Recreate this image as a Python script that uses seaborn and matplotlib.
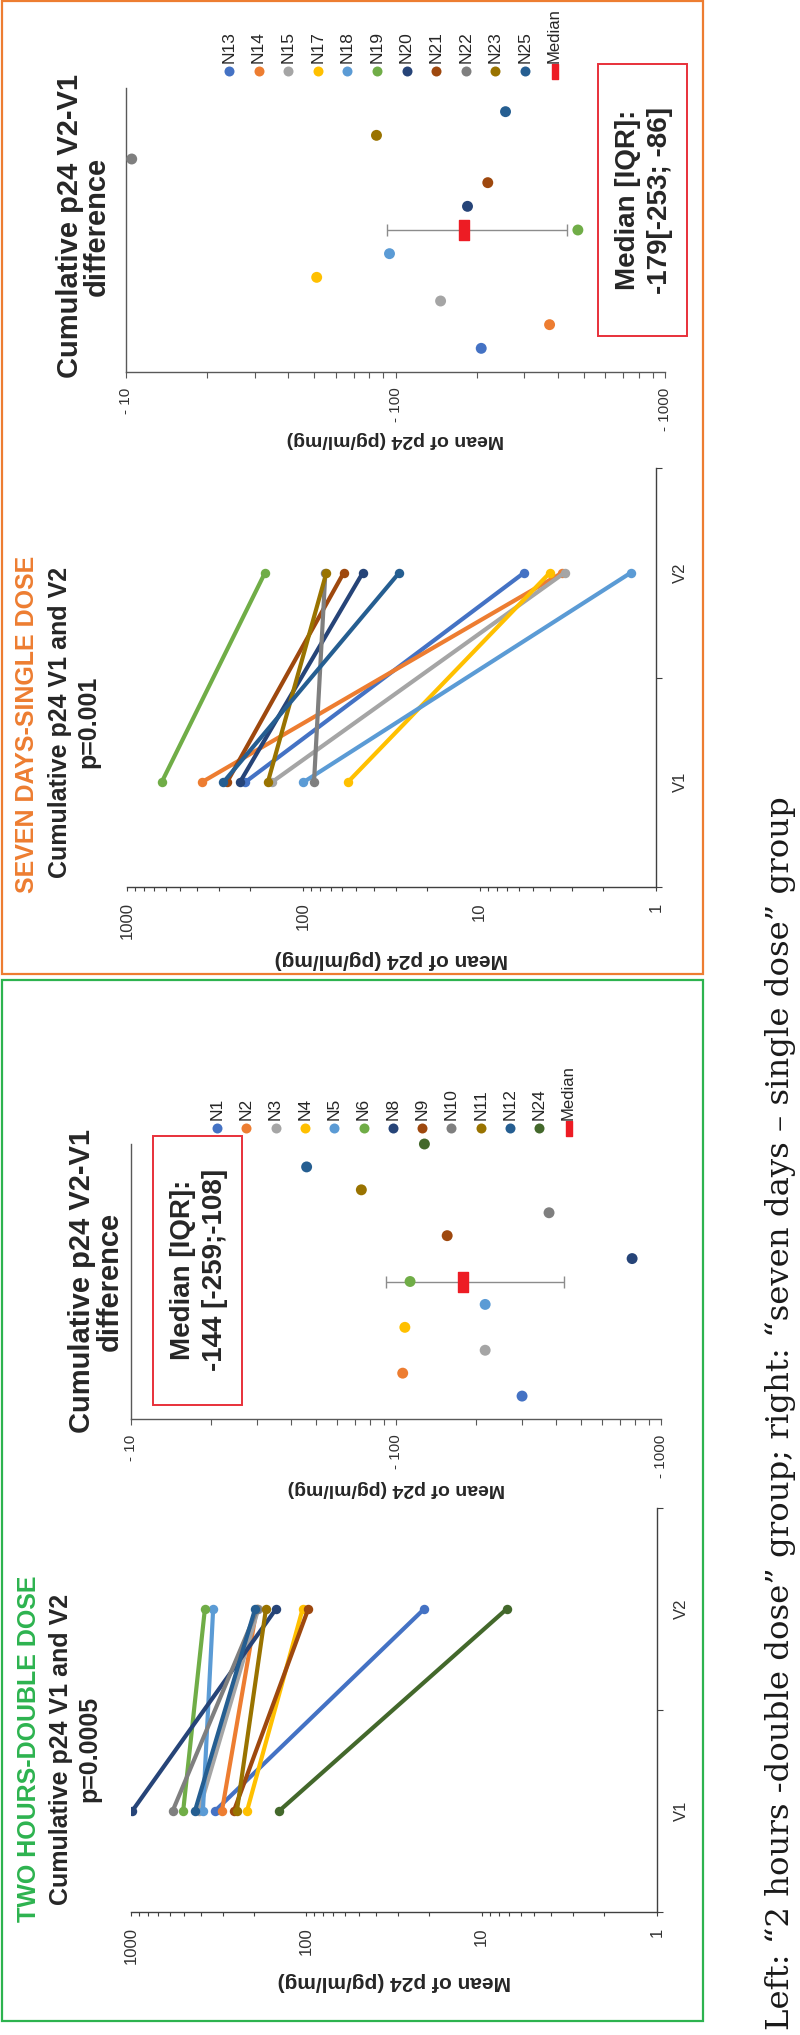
import numpy as np
import pandas as pd
import seaborn as sns
import matplotlib.pyplot as plt
from matplotlib.patches import Rectangle
from matplotlib.path import Path
from matplotlib.ticker import LogLocator, NullFormatter

sns.set_theme(style='white')
plt.rcParams['font.family'] = ['Liberation Sans', 'DejaVu Sans']

# --- two hours, double dose ---
ids_2h = ['N1', 'N2', 'N3', 'N4', 'N5', 'N6', 'N8', 'N9', 'N10', 'N11', 'N12', 'N24']
colors_2h = ['#4472C4', '#ED7D31', '#A5A5A5', '#FFC000', '#5B9BD5', '#70AD47',
             '#264478', '#9E480E', '#7F7F7F', '#997300', '#255E91', '#43682B']
v1_2h = [332, 303, 410, 218, 389, 504, 984, 259, 579, 249, 432, 143]
v2_2h = [21.3, 192, 188, 105, 340, 379, 149, 97.5, 190, 170, 196, 7.2]
diff_2h = [-299, -106, -217, -108, -217, -113, -778, -156, -378, -74, -46, -128]
median_2h = -179
err_2h = (-92, -431)
label_2h = 'Median [IQR]:\n-144 [-259;-108]'
p_2h = 'p=0.0005'

# --- seven days, single dose ---
ids_7d = ['N13', 'N14', 'N15', 'N17', 'N18', 'N19', 'N20', 'N21', 'N22', 'N23', 'N25']
colors_7d = ['#4472C4', '#ED7D31', '#A5A5A5', '#FFC000', '#5B9BD5', '#70AD47',
             '#264478', '#9E480E', '#7F7F7F', '#997300', '#255E91']
v1_7d = [214, 377, 151, 56, 100, 636, 229, 271, 87, 159, 284]
v2_7d = [5.6, 3.4, 3.3, 4.0, 1.39, 165, 46, 59, 75, 74, 28.6]
diff_7d = [-208, -373, -147, -51, -95, -475, -185, -220, -10.5, -85, -256]
median_7d = -179
err_7d = (-93, -433)
label_7d = 'Median [IQR]:\n-179[-253; -86]'
p_7d = 'p=0.001'

visits = ['V1', 'V2']
value_ticks = [1000, 100, 10, 1]
diff_ticks = [10, 100, 1000]
ylab = 'Mean of p24 (pg/ml/mg)'
caption = 'Left: \u201c2 hours -double dose\u201d group; right: \u201cseven days \u2013 single dose\u201d group'

RED = '#ED1C24'
ORANGE = '#ED7D31'
GREEN = '#2DB34F'
AXC = '#404040'

W, H = 800, 2035
fig = plt.figure(figsize=(W / 100, H / 100), dpi=100)


def px_axes(x0, y0, x1, y1):
    return fig.add_axes([x0 / W, 1 - y1 / H, (x1 - x0) / W, (y1 - y0) / H])


def rect_marker(w):
    return Path([(-w, -0.5), (w, -0.5), (w, 0.5), (-w, 0.5), (-w, -0.5)], closed=True)


def line_panel(ax, ids, v1, v2, colors, label_y):
    long = pd.DataFrame({'id': ids * 2,
                         'visit': [0] * len(ids) + [1] * len(ids),
                         'p24': v1 + v2})
    ax.set_xscale('log')
    sns.lineplot(data=long, x='p24', y='visit', hue='id', units='id', estimator=None,
                 sort=False, palette=dict(zip(ids, colors)), marker='o', markersize=6.8,
                 markeredgewidth=0, linewidth=3, legend=False, ax=ax)
    ax.set_xlim(1000, 1)
    ax.set_ylim(-0.5, 1.5)
    ax.set_xticks(value_ticks)
    ax.set_xticklabels([str(v) for v in value_ticks], rotation=90)
    ax.xaxis.set_minor_locator(LogLocator(base=10, subs=np.arange(2, 10)))
    ax.xaxis.set_minor_formatter(NullFormatter())
    ax.tick_params(axis='x', which='both', bottom=True, direction='out', length=3,
                   width=0.8, color=AXC, labelsize=12, pad=8, labelcolor='#333333')
    ax.yaxis.tick_right()
    ax.set_yticks([-0.5, 0.5, 1.5])
    ax.set_yticklabels([])
    ax.set_yticks([0, 1], minor=True)
    ax.set_yticklabels(visits, minor=True, rotation=90, va='center')
    ax.tick_params(axis='y', which='major', right=True, left=False, direction='out',
                   length=4, width=0.8, color=AXC)
    ax.tick_params(axis='y', which='minor', length=0, pad=12, labelsize=12,
                   labelcolor='#333333')
    for s in ['top', 'left']:
        ax.spines[s].set_visible(False)
    for s in ['bottom', 'right']:
        ax.spines[s].set_color(AXC)
        ax.spines[s].set_linewidth(1)
    ax.set_ylabel('')
    ax.set_xlabel(ylab, rotation=180, fontsize=15, fontweight='bold', va='center')
    ax.xaxis.set_label_coords(0.5, label_y)


def diff_panel(ax, ids, diffs, colors, median, err, label_y):
    n = len(ids)
    d = pd.DataFrame({'id': ids, 'pos': np.arange(1, n + 1), 'drop': -np.array(diffs)})
    ax.set_xscale('log')
    sns.scatterplot(data=d, x='drop', y='pos', hue='id', palette=dict(zip(ids, colors)),
                    s=62, edgecolor='none', legend=False, clip_on=False, ax=ax, zorder=3)
    mid = (n + 1) // 2
    ax.errorbar([-median], [mid], xerr=[[err[0] - median], [median - err[1]]], fmt='none',
                ecolor='#8C8C8C', elinewidth=1, capsize=4, capthick=1, zorder=2)
    ax.plot([-median], [mid], marker=rect_marker(0.25), markersize=14.4, color=RED,
            linestyle='none', zorder=4)
    ax.set_xlim(10, 1000)
    ax.set_ylim(0, 12)
    ax.set_xticks(diff_ticks)
    ax.set_xticklabels(['- ' + str(v) for v in diff_ticks], rotation=90)
    ax.xaxis.set_minor_locator(LogLocator(base=10, subs=np.arange(2, 10)))
    ax.xaxis.set_minor_formatter(NullFormatter())
    ax.tick_params(axis='x', which='both', bottom=True, direction='out', length=4,
                   width=0.8, color='#595959', labelsize=11, pad=7, labelcolor='#333333')
    ax.set_yticks([])
    for s in ['top', 'right']:
        ax.spines[s].set_visible(False)
    for s in ['bottom', 'left']:
        ax.spines[s].set_color('#595959')
        ax.spines[s].set_linewidth(1)
    ax.set_ylabel('')
    ax.set_xlabel(ylab, rotation=180, fontsize=14, fontweight='bold', va='center')
    ax.xaxis.set_label_coords(0.5, label_y)


# chart areas (pixel boxes)
ax_d7 = px_axes(126, 88, 665, 372)
ax_l7 = px_axes(127, 468, 656, 887)
ax_d2 = px_axes(131, 1144, 661, 1419)
ax_l2 = px_axes(131, 1508, 657, 1912)

diff_panel(ax_d7, ids_7d, diff_7d, colors_7d, median_7d, err_7d, -0.236)
line_panel(ax_l7, ids_7d, v1_7d, v2_7d, colors_7d, -0.174)
diff_panel(ax_d2, ids_2h, diff_2h, colors_2h, median_2h, err_2h, -0.251)
line_panel(ax_l2, ids_2h, v1_2h, v2_2h, colors_2h, -0.173)

# overlay in pixel coordinates for frames, titles, legends
ov = fig.add_axes([0, 0, 1, 1])
ov.set_xlim(0, W)
ov.set_ylim(H, 0)
ov.axis('off')

ov.add_patch(Rectangle((2, 1), 701, 973, fill=False, ec=ORANGE, lw=1.6))
ov.add_patch(Rectangle((2, 980), 701, 1041, fill=False, ec=GREEN, lw=1.6))

bold = dict(rotation=90, ha='center', fontweight='bold')
ov.text(27, 893, 'SEVEN DAYS-SINGLE DOSE', color=ORANGE, va='bottom', fontsize=18, **bold)
ov.text(74, 722, 'Cumulative p24 V1 and V2\n' + p_7d, va='center', fontsize=18,
        multialignment='center', **bold)
ov.text(29, 1922, 'TWO HOURS-DOUBLE DOSE', color=GREEN, va='bottom', fontsize=18, **bold)
ov.text(75, 1749, 'Cumulative p24 V1 and V2\n' + p_2h, va='center', fontsize=18,
        multialignment='center', **bold)

ov.text(83, 226, 'Cumulative p24 V2-V1\ndifference', va='center', fontsize=21,
        linespacing=0.95, multialignment='center', **bold)
ov.text(96, 1281, 'Cumulative p24 V2-V1\ndifference', va='center', fontsize=21,
        linespacing=1.0, multialignment='center', **bold)

ov.add_patch(Rectangle((598, 64), 89, 272, fill=False, ec='#E8303A', lw=1.4))
ov.text(644, 200, label_7d, va='center', fontsize=20, linespacing=1.3,
        multialignment='center', **bold)
ov.add_patch(Rectangle((153, 1136), 89, 269, fill=False, ec='#E8303A', lw=1.4))
ov.text(199, 1270, label_2h, va='center', fontsize=20, linespacing=1.3,
        multialignment='center', **bold)


def legend_row(ids, colors, x0, dx, y):
    for i, (name, col) in enumerate(zip(ids, colors)):
        x = x0 + i * dx
        ov.plot(x, y, 'o', ms=7.2, color=col, mec='none')
        ov.text(x, y - 8, name, rotation=90, ha='center', va='bottom', fontsize=12.5)
    xm = x0 + len(ids) * dx
    ov.plot(xm, y, marker=rect_marker(0.2), ms=10.8, color=RED, ls='none')
    ov.text(xm, y - 8, 'Median', rotation=90, ha='center', va='bottom', fontsize=12)


legend_row(ids_7d, colors_7d, 229, 29.6, 71)
legend_row(ids_2h, colors_2h, 217, 29.3, 1128)

ov.text(780, 2030, caption, rotation=90, ha='center', va='bottom',
        family=['DejaVu Serif'], fontsize=23.3, color='#1a1a1a')

fig.savefig('out.png', dpi=100)
